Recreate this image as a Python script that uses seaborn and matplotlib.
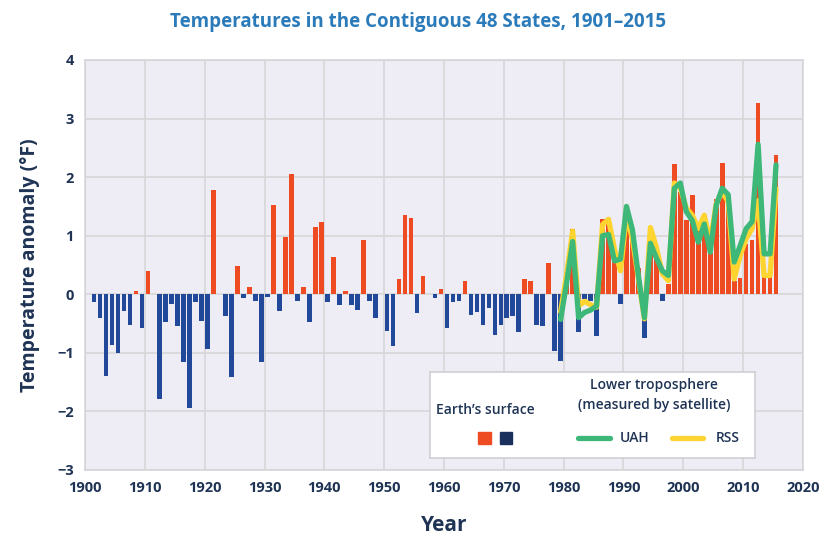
import numpy as np
import pandas as pd
import matplotlib
matplotlib.use("Agg")
import matplotlib.pyplot as plt
import seaborn as sns
from matplotlib.patches import Rectangle
from matplotlib.lines import Line2D

# Earth's surface anomaly, 1901-2015 (deg F)
years = list(range(1901, 2016))
surface = [
    -0.14, -0.41, -1.39, -0.86, -1.00, -0.28, -0.53, 0.05, -0.58, 0.39,
    0.01, -1.78, -0.48, -0.17, -0.55, -1.16, -1.95, -0.13, -0.45, -0.94,
    1.78, 0.01, -0.37, -1.42, 0.49, -0.07, 0.13, -0.11, -1.15, -0.04,
    1.52, -0.28, 0.97, 2.06, -0.11, 0.13, -0.47, 1.15, 1.24, -0.13,
    0.63, -0.18, 0.05, -0.18, -0.27, 0.93, -0.11, -0.41, 0.01, -0.62,
    -0.89, 0.26, 1.35, 1.31, -0.32, 0.31, 0.01, -0.07, 0.09, -0.58,
    -0.14, -0.11, 0.23, -0.35, -0.31, -0.52, -0.24, -0.69, -0.52, -0.41,
    -0.37, -0.65, 0.26, 0.23, -0.52, -0.55, 0.53, -0.97, -1.14, 0.25,
    1.11, -0.65, -0.08, -0.12, -0.71, 1.29, 1.31, 0.60, -0.17, 1.30,
    1.05, 0.45, -0.74, 0.90, 0.60, -0.12, 0.18, 2.22, 1.75, 1.26,
    1.69, 1.15, 1.05, 0.70, 1.63, 2.24, 1.65, 0.23, 0.28, 0.85,
    0.92, 3.27, 0.30, 0.30, 2.38,
]

# Lower troposphere (satellite), 1979-2015
sat_years = list(range(1979, 2016))
uah = [
    -0.43, 0.20, 0.90, -0.40, -0.31, -0.27, -0.20, 1.00, 1.02, 0.57,
    0.60, 1.50, 1.10, 0.31, -0.40, 0.87, 0.62, 0.40, 0.32, 1.81,
    1.90, 1.41, 1.26, 0.89, 1.20, 0.72, 1.52, 1.81, 1.70, 0.55,
    0.83, 1.12, 1.24, 2.56, 0.69, 0.69, 2.21,
]
rss = [
    -0.30, 0.35, 1.08, -0.20, -0.12, -0.18, -0.22, 1.19, 1.28, 0.77,
    0.40, 1.35, 0.94, 0.26, -0.42, 1.14, 0.80, 0.35, 0.23, 1.90,
    1.81, 1.47, 1.35, 1.12, 1.35, 0.89, 1.55, 1.75, 1.58, 0.26,
    0.66, 0.95, 1.12, 1.60, 0.32, 0.32, 1.80,
]

RED = "#EE4B22"
BLUE = "#22489A"
NAVY = "#1B2F5C"
GREEN = "#3DB878"
YELLOW = "#FDD430"
TEXT = "#1F3455"

sns.set_style("whitegrid", {
    "axes.facecolor": "#EEEDF5",
    "grid.color": "#D6D6D8",
    "axes.edgecolor": "#D6D6D8",
})
plt.rcParams["font.family"] = ["Open Sans", "DejaVu Sans"]

df = pd.DataFrame({"year": np.array(years) + 0.5, "anomaly": surface})
df["sign"] = np.where(df["anomaly"] >= 0, "warm", "cool")

fig = plt.figure(figsize=(8.36, 5.37), dpi=100)
ax = fig.add_axes([0.1017, 0.1248, 0.8588, 0.7635])

sns.barplot(data=df, x="year", y="anomaly", hue="sign", native_scale=True,
            palette={"warm": RED, "cool": BLUE}, saturation=1, width=0.78,
            dodge=False, legend=False, linewidth=0, ax=ax)

sat = pd.DataFrame({"year": np.array(sat_years) + 0.5, "UAH": uah, "RSS": rss})
sns.lineplot(data=sat, x="year", y="RSS", color=YELLOW, lw=3.8, ax=ax)
sns.lineplot(data=sat, x="year", y="UAH", color=GREEN, lw=3.8, ax=ax)

ax.set_xlim(1900, 2020)
ax.set_ylim(-3, 4)
ax.set_xticks(range(1900, 2021, 10))
ax.set_yticks(range(-3, 5))
ax.tick_params(length=0, labelsize=10.5, labelcolor=TEXT, pad=8)
for lab in ax.get_xticklabels() + ax.get_yticklabels():
    lab.set_fontweight("bold")
ax.set_xlabel("Year", fontsize=15, fontweight="bold", color=TEXT, labelpad=14)
ax.set_ylabel("Temperature anomaly (°F)", fontsize=14, fontweight="bold",
              color=TEXT, labelpad=12)
ax.grid(True, lw=1.2)
for s in ax.spines.values():
    s.set_linewidth(1.2)

fig.suptitle("Temperatures in the Contiguous 48 States, 1901–2015",
             x=0.5, y=0.978, fontsize=13.5, fontweight="bold", color="#2B7BBA")

# custom legend box
lg = fig.add_axes([0.514, 0.147, 0.389, 0.160])
lg.set_xlim(0, 1)
lg.set_ylim(0, 1)
lg.set_xticks([])
lg.set_yticks([])
lg.set_facecolor("white")
for s in lg.spines.values():
    s.set_color("#CFCFD4")
    s.set_linewidth(1.2)
kw = dict(color=TEXT, fontsize=10, fontweight="semibold", ha="center", va="center")
lg.text(0.17, 0.56, "Earth’s surface", **kw)
lg.text(0.69, 0.85, "Lower troposphere", **kw)
lg.text(0.69, 0.62, "(measured by satellite)", **kw)
lg.add_patch(Rectangle((0.150, 0.16), 0.037, 0.14, color=RED))
lg.add_patch(Rectangle((0.215, 0.16), 0.037, 0.14, color=NAVY))
lg.add_line(Line2D([0.455, 0.555], [0.23, 0.23], color=GREEN, lw=3.8))
lg.add_line(Line2D([0.745, 0.840], [0.23, 0.23], color=YELLOW, lw=3.8))
lg.text(0.585, 0.23, "UAH", color=TEXT, fontsize=10, fontweight="semibold", va="center")
lg.text(0.88, 0.23, "RSS", color=TEXT, fontsize=10, fontweight="semibold", va="center")

fig.savefig("out.png", dpi=100)
